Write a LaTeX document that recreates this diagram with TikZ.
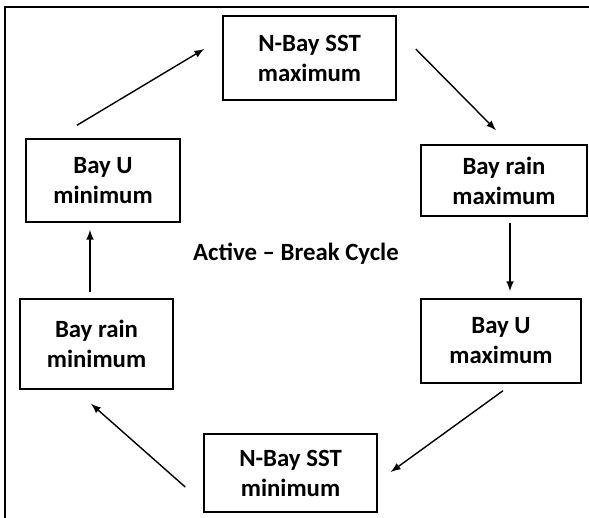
\documentclass[tikz,border=0pt]{standalone}
\usepackage{fontspec}
\setmainfont{Carlito}
\usepackage{tikz}
\usetikzlibrary{arrows}

\begin{document}
\begin{tikzpicture}[x=0.5pt, y=-0.5pt, >=latex,
		box/.style={draw, line width=0.75pt, align=center, inner sep=0pt, font=\fontsize{12.4}{15}\selectfont\bfseries},
		arr/.style={->, line width=0.7pt}]
	\useasboundingbox (0,0) rectangle (589,518);
	\draw [line width=1pt] (5,518) -- (5,7) -- (589,7); %Rahmen
	\node[box, minimum width=86.5pt, minimum height=42pt] (sstmax) at (309.5,58) {N-Bay SST\\maximum};
	\node[box, minimum width=83pt, minimum height=35.5pt] (rainmax) at (504,180.5) {Bay rain\\maximum};
	\node[box, minimum width=80pt, minimum height=42pt] (umax) at (501,341) {Bay U\\maximum};
	\node[box, minimum width=86.5pt, minimum height=39pt] (sstmin) at (290.5,473) {N-Bay SST\\minimum};
	\node[box, minimum width=76.5pt, minimum height=45pt] (rainmin) at (96.5,344) {Bay rain\\minimum};
	\node[box, minimum width=77pt, minimum height=41.5pt] (umin) at (103,180.5) {Bay U\\minimum};
	\node[font=\fontsize{12.4}{15}\selectfont\bfseries] (cycle) at (296,254) {Active -- Break Cycle};
	% Pfeile im Kreis
	\draw[arr] ([shift={(-26,-13)}]umin.north) -- ([shift={(-18,-9)}]sstmax.west);
	\draw[arr] ([shift={(19,-9)}]sstmax.east) -- ([shift={(-8,-14)}]rainmax.north);
	\draw[arr] ([shift={(6,6)}]rainmax.south) -- ([shift={(9,-7)}]umax.north);
	\draw[arr] ([shift={(2,7)}]umax.south) -- ([shift={(13,-1)}]sstmin.east);
	\draw[arr] ([shift={(-18,14)}]sstmin.west) -- ([shift={(-5.5,14)}]rainmin.south);
	\draw[arr] ([shift={(-6.5,-6)}]rainmin.north) -- ([shift={(-13,7)}]umin.south);
\end{tikzpicture}
\end{document}
